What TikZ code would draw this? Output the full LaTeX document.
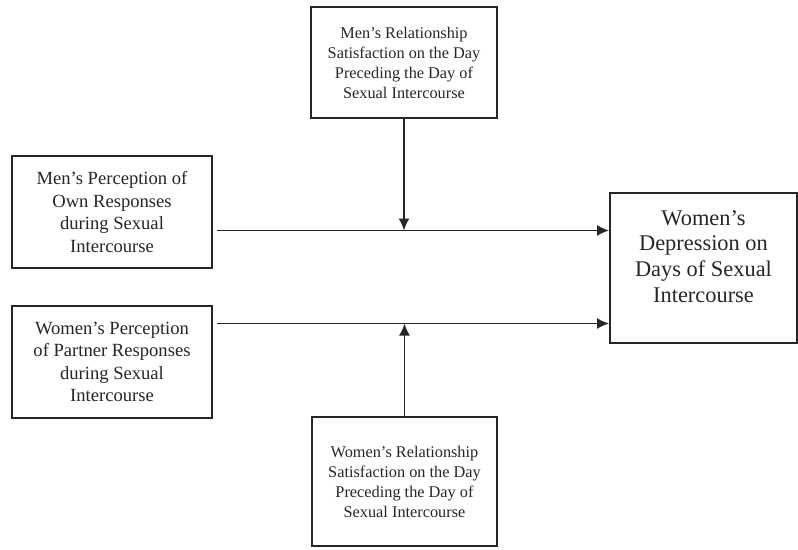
\documentclass[tikz,border=0pt]{standalone}
\usepackage{fontspec}
\setmainfont{Liberation Serif}
\usetikzlibrary{arrows.meta,calc}
\begin{document}
\begin{tikzpicture}[x=1pt,y=-1pt,
  box/.style={draw=black!85,line width=1.8pt,rectangle,inner sep=0pt,align=center,text=black!85},
  arr/.style={draw=black!85,line width=1.7pt,-{Latex[length=12pt,width=11pt]}}]
\useasboundingbox (0,0) rectangle (798,549);
\node[box,minimum width=186pt,minimum height=111pt,font=\fontsize{16.3}{20}\selectfont] (top) at (404,62.5)
  {Men’s Relationship\\Satisfaction on the Day\\Preceding the Day of\\Sexual Intercourse};
\node[box,minimum width=200pt,minimum height=112pt,font=\fontsize{18.6}{22.5}\selectfont] (m1) at (112,212)
  {Men’s Perception of\\Own Responses\\during Sexual\\Intercourse};
\node[box,minimum width=200pt,minimum height=112pt,font=\fontsize{18.6}{22.5}\selectfont] (m2) at (112,362)
  {Women’s Perception\\of Partner Responses\\during Sexual\\Intercourse};
\node[box,minimum width=187pt,minimum height=150pt] (dep) at (703.5,268) {};
\node[align=center,text=black!85,font=\fontsize{22.4}{25.7}\selectfont,inner sep=0pt] (deptext) at (703.5,256.5)
  {Women’s\\Depression on\\Days of Sexual\\Intercourse};
\node[box,minimum width=185pt,minimum height=129pt,font=\fontsize{16.3}{20}\selectfont] (bot) at (404.5,481.5)
  {Women’s Relationship\\Satisfaction on the Day\\Preceding the Day of\\Sexual Intercourse};
\coordinate (a1) at (217,230.5);
\coordinate (a2) at (217,323.5);
\draw[arr] (a1) -- (dep.west |- a1);
\draw[arr] (a2) -- (dep.west |- a2);
\draw[arr] (top.south) -- (top.south |- a1);
\draw[arr] (bot.north) -- (bot.north |- a2);
\end{tikzpicture}
\end{document}
